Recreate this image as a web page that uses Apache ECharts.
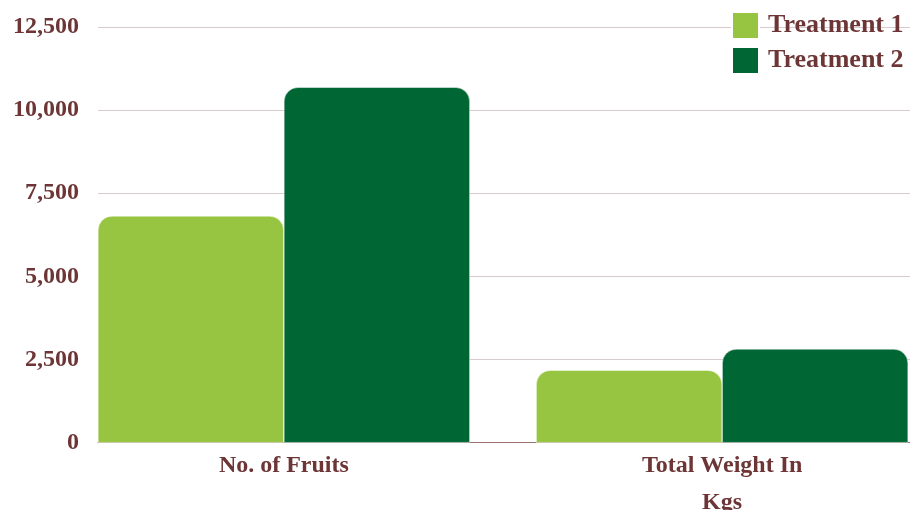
<!DOCTYPE html>
<html>
<head>
<meta charset="utf-8">
<script src="https://cdn.jsdelivr.net/npm/echarts@6/dist/echarts.min.js"></script>
<style>
  html, body { margin: 0; padding: 0; background: #fff; }
</style>
</head>
<body>
<div id="chart" style="width:910px;height:510px;"></div>
<script>
// data
const categories = ['No. of Fruits', 'Total Weight In\nKgs'];
const treatment1 = [6820, 2180];
const treatment2 = [10690, 2820];
const yTicks = { min: 0, max: 12500, interval: 2500 };

const textColor = '#6d3535';
const serif = '"Liberation Serif", "DejaVu Serif", serif';

let myChart = echarts.init(document.getElementById('chart'));
myChart.setOption({
    animation: false,
    textStyle: { fontFamily: serif },
    legend: {
        orient: 'vertical',
        left: 731,
        top: 11,
        padding: 0,
        itemWidth: 27,
        itemHeight: 27,
        itemGap: 6,
        icon: 'rect',
        textStyle: { color: textColor, fontSize: 26, fontWeight: 'bold', fontFamily: serif, padding: [0, 0, 0, 4] }
    },
    // grid 0 holds the bars, grid 1 draws the axis/grid lines
    grid: [
        { left: 64.75, width: 876.5, top: 27, bottom: 67.3, containLabel: false, outerBoundsMode: 'none' },
        { left: 98, right: 0, top: 27, bottom: 67.3, containLabel: false, outerBoundsMode: 'none' }
    ],
    xAxis: [
        {
            type: 'category',
            gridIndex: 0,
            data: categories,
            axisLine: { show: false },
            axisTick: { show: false },
            axisLabel: {
                color: textColor, fontSize: 24, fontWeight: 'bold', fontFamily: serif,
                margin: 5, lineHeight: 37
            }
        },
        {
            type: 'value',
            gridIndex: 1,
            min: 0, max: 1,
            axisLine: { show: true, lineStyle: { color: '#9b7373', width: 1 } },
            axisTick: { show: false },
            axisLabel: { show: false },
            splitLine: { show: false }
        }
    ],
    yAxis: [
        {
            type: 'value', gridIndex: 0,
            min: yTicks.min, max: yTicks.max, interval: yTicks.interval,
            axisLabel: { show: false },
            axisLine: { show: false },
            axisTick: { show: false },
            splitLine: { show: false }
        },
        {
            type: 'value', gridIndex: 1,
            min: yTicks.min, max: yTicks.max, interval: yTicks.interval,
            axisLine: { show: false },
            axisTick: { show: false },
            axisLabel: {
                color: textColor, fontSize: 24, fontWeight: 'bold', fontFamily: serif, margin: 19,
                formatter: v => v.toLocaleString('en-US')
            },
            splitLine: { lineStyle: { color: '#d8cacd', width: 1 } }
        }
    ],
    series: [
        {
            name: 'Treatment 1',
            type: 'bar',
            xAxisIndex: 0, yAxisIndex: 0,
            data: treatment1,
            barWidth: 186,
            barGap: '0%',
            itemStyle: { color: '#98c541', borderRadius: [14, 14, 0, 0], borderColor: '#fff', borderWidth: 0.5 }
        },
        {
            name: 'Treatment 2',
            type: 'bar',
            xAxisIndex: 0, yAxisIndex: 0,
            data: treatment2,
            barWidth: 186,
            barGap: '0%',
            itemStyle: { color: '#006734', borderRadius: [14, 14, 0, 0], borderColor: '#fff', borderWidth: 0.5 }
        }
    ]
});
</script>
</body>
</html>
